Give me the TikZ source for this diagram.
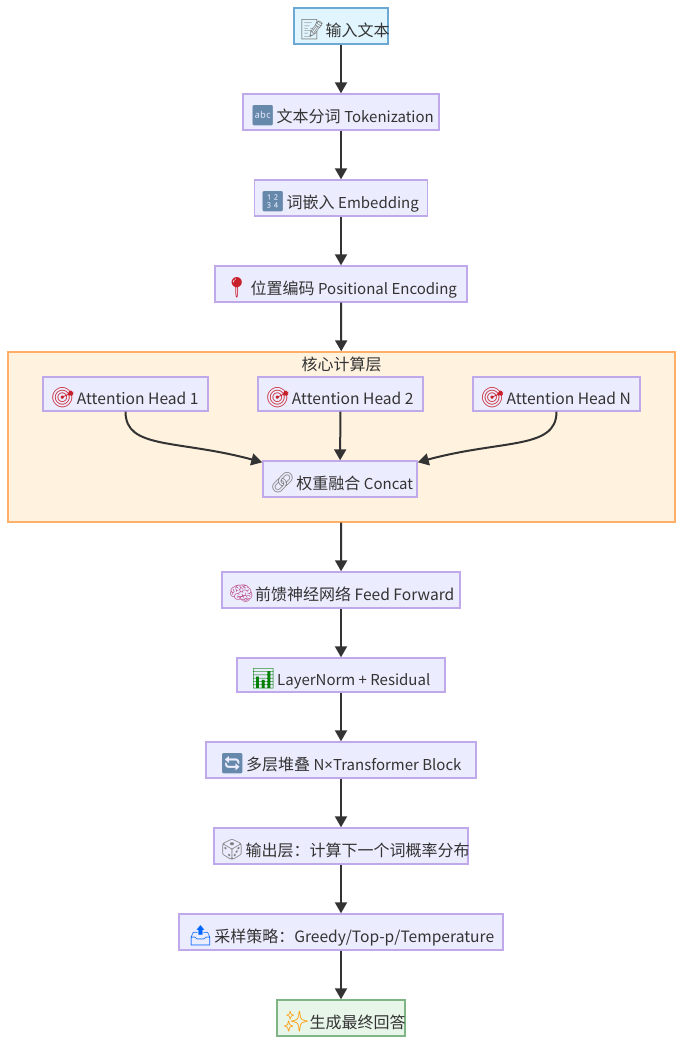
\documentclass[tikz,border=0pt]{standalone}
\usepackage{fontspec}
\usepackage{amsmath}
\usetikzlibrary{arrows.meta}
\setmainfont{Noto Sans CJK SC}
\newfontfamily\emojifont{Noto Emoji}
\newfontfamily\crossfont{Noto Sans}
\definecolor{inkgray}{HTML}{333333}
\definecolor{boxfill}{HTML}{ECECFF}
\definecolor{boxline}{HTML}{BFA9EA}
\definecolor{keyblue}{HTML}{6688AA}
\definecolor{pinred}{HTML}{C8202A}
\definecolor{inputline}{HTML}{6CA8D4}
\definecolor{inputfill}{HTML}{E1F5FE}
\definecolor{finalline}{HTML}{7FB585}
\definecolor{finalfill}{HTML}{E8F5E9}
\definecolor{subline}{HTML}{FFB066}
\definecolor{subfill}{HTML}{FFF3E0}
\newcommand{\emo}[2]{\textcolor{#1}{\fontsize{20}{20}\emojifont #2}\kern-2.5pt\relax}
\newcommand{\la}[1]{{\fontsize{15}{18}\selectfont #1}}
\newcommand{\lb}[1]{{\fontsize{15.6}{18}\selectfont #1}}
\newcommand{\lab}[2]{\smash{\raisebox{-10pt}{\makebox[0pt]{\hspace*{#1}#2}}}}
\tikzset{
    flowbox/.style={draw=boxline, fill=boxfill, line width=1.4pt, text=inkgray, font=\fontsize{16}{18}\selectfont,
        inner sep=0pt, minimum height=36pt},
    inputbox/.style={flowbox, draw=inputline, fill=inputfill},
    finalbox/.style={flowbox, draw=finalline, fill=finalfill},
    flowline/.style={draw=inkgray, line width=2pt, -{Triangle[length=11pt,width=12pt]}},
    subbox/.style={draw=subline, fill=subfill, line width=1.4pt, inner sep=0pt}
}
\begin{document}
\begin{tikzpicture}[x=1pt,y=-1pt]
    \useasboundingbox[fill=white] (0,0) rectangle (683,1044);
    % Draw the top of the stack
    \node[inputbox, minimum width=94pt] (input) at (341,26) {\lab{7pt}{\emo{gray}{📝} 输入文本}};
    \node[flowbox, minimum width=196pt] (token) at (341,112) {\lab{2pt}{\emo{keyblue}{🔤} 文本分词 \la{Tokenization}}};
    \node[flowbox, minimum width=173pt] (embed) at (341,198) {\lab{-3pt}{\emo{keyblue}{🔢} 词嵌入 \la{Embedding}}};
    \node[flowbox, minimum width=252pt] (posenc) at (341,284) {\lab{-1pt}{\emo{pinred}{📍} 位置编码 \la{Positional Encoding}}};
    % Draw the core layer with its heads
    \node[subbox, minimum width=667pt, minimum height=170pt] (core) at (341.5,437) {};
    \node[text=inkgray, font=\fontsize{16}{18}\selectfont, inner sep=0pt] (coretitle) at (341.5,364) {核心计算层};
    \node[flowbox, minimum width=165pt, minimum height=34pt] (headone) at (125.5,394) {\lab{-2pt}{\emo{pinred}{🎯} \lb{Attention Head 1}}};
    \node[flowbox, minimum width=165pt, minimum height=34pt] (headtwo) at (340.5,394) {\lab{-2pt}{\emo{pinred}{🎯} \lb{Attention Head 2}}};
    \node[flowbox, minimum width=167pt, minimum height=34pt] (headn) at (556.5,394) {\lab{-2pt}{\emo{pinred}{🎯} \lb{Attention Head N}}};
    \node[flowbox, minimum width=154pt] (concat) at (340,479) {\lab{3pt}{\emo{gray}{🔗} 权重融合 \la{Concat}}};
    % Draw the lower part of the stack
    \node[flowbox, minimum width=238pt] (feed) at (341,590) {\lab{1pt}{\emo{magenta!50!gray}{🧠} 前馈神经网络 \lb{Feed Forward}}};
    \node[flowbox, minimum width=208pt, minimum height=34pt] (norm) at (341,675) {\lab{-1pt}{\emo{green!50!black}{📊} \la{LayerNorm + Residual}}};
    \node[flowbox, minimum width=270pt] (stack) at (341,760) {\lab{-1pt}{\emo{keyblue}{🔄} 多层堆叠 \la{N{\crossfont ×}Transformer Block}}};
    \node[flowbox, minimum width=254pt] (output) at (341,846) {\lab{7pt}{\emo{gray}{🎲} 输出层：计算下一个词概率分布}};
    \node[flowbox, minimum width=324pt] (sample) at (341,932) {\lab{0pt}{\emo{blue!60!cyan}{📤} 采样策略：\lb{Greedy/Top-p/Temperature}}};
    \node[finalbox, minimum width=128pt] (final) at (341,1018) {\lab{7pt}{\emo{orange!80!yellow}{✨} 生成最终回答}};
    % Draw the straight connectors
    \foreach \a/\b in {input/token,token/embed,embed/posenc,posenc/core,headtwo/concat,core/feed,feed/norm,norm/stack,stack/output,output/sample,sample/final} {
        \draw[flowline] (\a) -- (\b);
    }
    % Draw the curved connectors
    \draw[flowline] (headone.south) .. controls +(0,38) and +(-85,-23) .. ([yshift=-2pt]concat.north west);
    \draw[flowline] (headn.south) .. controls +(0,38) and +(85,-23) .. ([yshift=-2pt]concat.north east);
\end{tikzpicture}
\end{document}
